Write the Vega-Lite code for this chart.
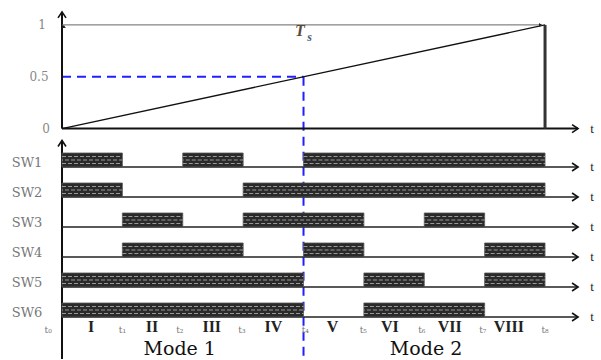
{
  "$schema": "https://vega.github.io/schema/vega-lite/v6.json",
  "width": 601,
  "height": 360,
  "padding": 0,
  "autosize": {"type": "fit", "contains": "padding"},
  "background": "white",
  "config": {"view": {"stroke": null}},
  "datasets": {
    "ramp": [{"t": 0, "v": 0}, {"t": 8, "v": 1}],
    "axes": [
      {"t": 0, "t2": 0, "v": 0, "v2": 1.125},
      {"t": 0, "t2": 0, "v": -0.115, "v2": -2.221},
      {"t": 0, "t2": 8.547, "v": 0, "v2": 0}
    ],
    "chev": [
      {"t": 0, "v": 1.125, "dir": "up"},
      {"t": 0, "v": -0.115, "dir": "up"},
      {"t": 8.547, "v": 0, "dir": "right"}
    ],
    "tsline": [{"t": 0, "t2": 7.95, "v": 1}],
    "tsarrow": [{"t": 0.03, "v": 1, "dir": "left"}, {"t": 7.95, "v": 1, "dir": "right"}],
    "tsbar": [{"t": 8, "v": 0, "v2": 1}],
    "blue": [
      {"t": 0, "t2": 4, "v": 0.5, "v2": 0.5},
      {"t": 4, "t2": 4, "v": 0.5, "v2": -2.221}
    ],
    "yticks": [
      {"t": -0.331, "v": 1, "label": "1"},
      {"t": -0.381, "v": 0.5, "label": "0.5"},
      {"t": -0.265, "v": 0, "label": "0"}
    ],
    "toplabels": [
      {"t": 8.78, "v": 0, "label": "t"}
    ],
    "bars": [
      {"sw": "SW1", "start": 0, "end": 1}, {"sw": "SW1", "start": 2, "end": 3}, {"sw": "SW1", "start": 4, "end": 8},
      {"sw": "SW2", "start": 0, "end": 1}, {"sw": "SW2", "start": 3, "end": 8},
      {"sw": "SW3", "start": 1, "end": 2}, {"sw": "SW3", "start": 3, "end": 5}, {"sw": "SW3", "start": 6, "end": 7},
      {"sw": "SW4", "start": 1, "end": 3}, {"sw": "SW4", "start": 4, "end": 5}, {"sw": "SW4", "start": 7, "end": 8},
      {"sw": "SW5", "start": 0, "end": 4}, {"sw": "SW5", "start": 5, "end": 6}, {"sw": "SW5", "start": 7, "end": 8},
      {"sw": "SW6", "start": 0, "end": 4}, {"sw": "SW6", "start": 5, "end": 7}
    ],
    "rows": [
      {"sw": "SW1", "t": 0, "t2": 8.547},
      {"sw": "SW2", "t": 0, "t2": 8.547},
      {"sw": "SW3", "t": 0, "t2": 8.547},
      {"sw": "SW4", "t": 0, "t2": 8.547},
      {"sw": "SW5", "t": 0, "t2": 8.547},
      {"sw": "SW6", "t": 0, "t2": 8.547}
    ],
    "tlabels": [
      {"sw": "labels", "t": -0.23, "label": "t₀"},
      {"sw": "labels", "t": 1.0, "label": "t₁"},
      {"sw": "labels", "t": 1.95, "label": "t₂"},
      {"sw": "labels", "t": 2.98, "label": "t₃"},
      {"sw": "labels", "t": 4.03, "label": "t₄"},
      {"sw": "labels", "t": 4.99, "label": "t₅"},
      {"sw": "labels", "t": 5.96, "label": "t₆"},
      {"sw": "labels", "t": 6.97, "label": "t₇"},
      {"sw": "labels", "t": 8.0, "label": "t₈"}
    ],
    "roman": [
      {"sw": "labels", "t": 0.48, "label": "I"},
      {"sw": "labels", "t": 1.49, "label": "II"},
      {"sw": "labels", "t": 2.48, "label": "III"},
      {"sw": "labels", "t": 3.5, "label": "IV"},
      {"sw": "labels", "t": 4.48, "label": "V"},
      {"sw": "labels", "t": 5.43, "label": "VI"},
      {"sw": "labels", "t": 6.42, "label": "VII"},
      {"sw": "labels", "t": 7.4, "label": "VIII"}
    ],
    "modes": [
      {"sw": "mode", "t": 1.95, "label": "Mode 1"},
      {"sw": "mode", "t": 6.03, "label": "Mode 2"}
    ]
  },
  "resolve": {"scale": {"y": "independent"}},
  "layer": [
    {
      "layer": [
        {
          "data": {"name": "blue"},
          "mark": {"type": "rule", "color": "#2020ff", "strokeWidth": 2, "strokeDash": [9, 6]},
          "encoding": {
            "x": {"field": "t", "type": "quantitative", "scale": {"domain": [-1.027, 8.927], "nice": false, "zero": false}, "axis": null},
            "x2": {"field": "t2"},
            "y": {"field": "v", "type": "quantitative", "scale": {"domain": [-2.221, 1.24], "nice": false, "zero": false}, "axis": null},
            "y2": {"field": "v2"}
          }
        },
        {
          "data": {"name": "ramp"},
          "mark": {"type": "line", "color": "#111111", "strokeWidth": 1.4},
          "encoding": {
            "x": {"field": "t", "type": "quantitative", "axis": null},
            "y": {"field": "v", "type": "quantitative", "axis": null}
          }
        },
        {
          "data": {"name": "axes"},
          "mark": {"type": "rule", "color": "#111111", "strokeWidth": 2},
          "encoding": {
            "x": {"field": "t", "type": "quantitative", "axis": null},
            "x2": {"field": "t2"},
            "y": {"field": "v", "type": "quantitative", "axis": null},
            "y2": {"field": "v2"}
          }
        },
        {
          "data": {"name": "tsline"},
          "mark": {"type": "rule", "color": "#666666", "strokeWidth": 1},
          "encoding": {
            "x": {"field": "t", "type": "quantitative", "axis": null},
            "x2": {"field": "t2"},
            "y": {"field": "v", "type": "quantitative", "axis": null}
          }
        },
        {
          "data": {"name": "tsbar"},
          "mark": {"type": "rule", "color": "#333333", "strokeWidth": 3},
          "encoding": {
            "x": {"field": "t", "type": "quantitative", "axis": null},
            "y": {"field": "v", "type": "quantitative", "axis": null},
            "y2": {"field": "v2"}
          }
        },
        {
          "data": {"name": "chev"},
          "mark": {"type": "point", "filled": false, "color": "#111111", "strokeWidth": 1.6, "size": 64, "opacity": 1},
          "encoding": {
            "x": {"field": "t", "type": "quantitative", "axis": null},
            "y": {"field": "v", "type": "quantitative", "axis": null},
            "shape": {"field": "dir", "type": "nominal", "legend": null,
              "scale": {"domain": ["up", "right"], "range": ["M -1 1.5 L 0 0 L 1 1.5", "M -1.5 -1 L 0 0 L -1.5 1"]}}
          }
        },
        {
          "data": {"name": "tsarrow"},
          "mark": {"type": "point", "filled": true, "color": "#222222", "size": 16, "opacity": 1},
          "encoding": {
            "x": {"field": "t", "type": "quantitative", "axis": null},
            "y": {"field": "v", "type": "quantitative", "axis": null},
            "shape": {"field": "dir", "type": "nominal", "legend": null,
              "scale": {"domain": ["left", "right"], "range": ["M 0 0 L 4 -1.2 L 4 1.2 Z", "M 0 0 L -4 -1.2 L -4 1.2 Z"]}}
          }
        },
        {
          "data": {"name": "yticks"},
          "mark": {"type": "text", "font": "DejaVu Serif", "fontSize": 12, "color": "#888888", "align": "center", "baseline": "middle"},
          "encoding": {
            "x": {"field": "t", "type": "quantitative", "axis": null},
            "y": {"field": "v", "type": "quantitative", "axis": null},
            "text": {"field": "label"}
          }
        },
        {
          "data": {"name": "toplabels"},
          "mark": {"type": "text", "font": "Liberation Serif", "fontSize": 13, "color": "#222222", "align": "center", "baseline": "middle"},
          "encoding": {
            "x": {"field": "t", "type": "quantitative", "axis": null},
            "y": {"field": "v", "type": "quantitative", "axis": null},
            "text": {"field": "label"}
          }
        },
        {
          "data": {"values": [{"t": 3.94, "v": 0.94, "label": "T"}]},
          "mark": {"type": "text", "font": "Liberation Serif", "fontSize": 16, "fontStyle": "italic", "fontWeight": "bold", "color": "#5a4a3a", "align": "center", "baseline": "middle"},
          "encoding": {
            "x": {"field": "t", "type": "quantitative", "axis": null},
            "y": {"field": "v", "type": "quantitative", "axis": null},
            "text": {"field": "label"}
          }
        },
        {
          "data": {"values": [{"t": 4.1, "v": 0.885, "label": "s"}]},
          "mark": {"type": "text", "font": "Liberation Serif", "fontSize": 12, "fontStyle": "italic", "fontWeight": "bold", "color": "#4a5a7a", "align": "center", "baseline": "middle"},
          "encoding": {
            "x": {"field": "t", "type": "quantitative", "axis": null},
            "y": {"field": "v", "type": "quantitative", "axis": null},
            "text": {"field": "label"}
          }
        }
      ]
    },
    {
      "layer": [
        {
          "data": {"name": "rows"},
          "mark": {"type": "rule", "color": "#222222", "strokeWidth": 1.3},
          "encoding": {
            "x": {"field": "t", "type": "quantitative", "axis": null},
            "x2": {"field": "t2"},
            "y": {"field": "sw", "type": "nominal", "bandPosition": 1, "axis": null,
              "scale": {"type": "band", "domain": ["SW1", "SW2", "SW3", "SW4", "SW5", "SW6", "labels", "mode"], "range": [153, 377], "paddingInner": 0.5333, "paddingOuter": 0}}
          }
        },
        {
          "data": {"name": "bars"},
          "mark": {"type": "bar", "color": "#2a2a2a", "stroke": "#555555", "strokeWidth": 0.8},
          "encoding": {
            "x": {"field": "start", "type": "quantitative", "axis": null},
            "x2": {"field": "end"},
            "y": {"field": "sw", "type": "nominal", "axis": null}
          }
        },
        {
          "data": {"name": "bars"},
          "mark": {"type": "rule", "color": "#9a9a9a", "strokeWidth": 1.1, "strokeDash": [4, 2]},
          "encoding": {
            "x": {"field": "start", "type": "quantitative", "axis": null},
            "x2": {"field": "end"},
            "y": {"field": "sw", "type": "nominal", "bandPosition": 0.25, "axis": null}
          }
        },
        {
          "data": {"name": "bars"},
          "mark": {"type": "rule", "color": "#9a9a9a", "strokeWidth": 1.1, "strokeDash": [4, 2], "strokeDashOffset": 3},
          "encoding": {
            "x": {"field": "start", "type": "quantitative", "axis": null},
            "x2": {"field": "end"},
            "y": {"field": "sw", "type": "nominal", "bandPosition": 0.5, "axis": null}
          }
        },
        {
          "data": {"name": "bars"},
          "mark": {"type": "rule", "color": "#9a9a9a", "strokeWidth": 1.1, "strokeDash": [4, 2]},
          "encoding": {
            "x": {"field": "start", "type": "quantitative", "axis": null},
            "x2": {"field": "end"},
            "y": {"field": "sw", "type": "nominal", "bandPosition": 0.75, "axis": null}
          }
        },
        {
          "data": {"name": "rows"},
          "mark": {"type": "point", "filled": false, "color": "#111111", "strokeWidth": 1.6, "size": 64, "opacity": 1, "shape": "M -1.5 -1 L 0 0 L -1.5 1"},
          "encoding": {
            "x": {"field": "t2", "type": "quantitative", "axis": null},
            "y": {"field": "sw", "type": "nominal", "bandPosition": 1, "axis": null}
          }
        },
        {
          "data": {"name": "rows"},
          "mark": {"type": "text", "font": "DejaVu Serif", "fontSize": 13, "color": "#777777", "align": "center", "baseline": "middle"},
          "encoding": {
            "x": {"datum": -0.58, "type": "quantitative", "axis": null},
            "y": {"field": "sw", "type": "nominal", "bandPosition": 0.72, "axis": null},
            "text": {"field": "sw"}
          }
        },
        {
          "data": {"name": "rows"},
          "mark": {"type": "text", "font": "Liberation Serif", "fontSize": 13, "color": "#222222", "align": "center", "baseline": "middle"},
          "encoding": {
            "x": {"datum": 8.78, "type": "quantitative", "axis": null},
            "y": {"field": "sw", "type": "nominal", "bandPosition": 1, "axis": null},
            "text": {"value": "t"}
          }
        },
        {
          "data": {"name": "tlabels"},
          "mark": {"type": "text", "font": "DejaVu Serif", "fontSize": 9, "color": "#777777", "align": "center", "baseline": "middle", "dy": -3},
          "encoding": {
            "x": {"field": "t", "type": "quantitative", "axis": null},
            "y": {"field": "sw", "type": "nominal", "bandPosition": 0, "axis": null},
            "text": {"field": "label"}
          }
        },
        {
          "data": {"name": "roman"},
          "mark": {"type": "text", "font": "Liberation Serif", "fontSize": 16, "fontWeight": "bold", "color": "#222222", "align": "center", "baseline": "middle", "dy": -6},
          "encoding": {
            "x": {"field": "t", "type": "quantitative", "axis": null},
            "y": {"field": "sw", "type": "nominal", "bandPosition": 0, "axis": null},
            "text": {"field": "label"}
          }
        },
        {
          "data": {"name": "modes"},
          "mark": {"type": "text", "font": "DejaVu Serif", "fontSize": 19, "color": "#111111", "align": "center", "baseline": "middle", "dy": -14},
          "encoding": {
            "x": {"field": "t", "type": "quantitative", "axis": null},
            "y": {"field": "sw", "type": "nominal", "bandPosition": 0, "axis": null},
            "text": {"field": "label"}
          }
        }
      ]
    }
  ]
}
